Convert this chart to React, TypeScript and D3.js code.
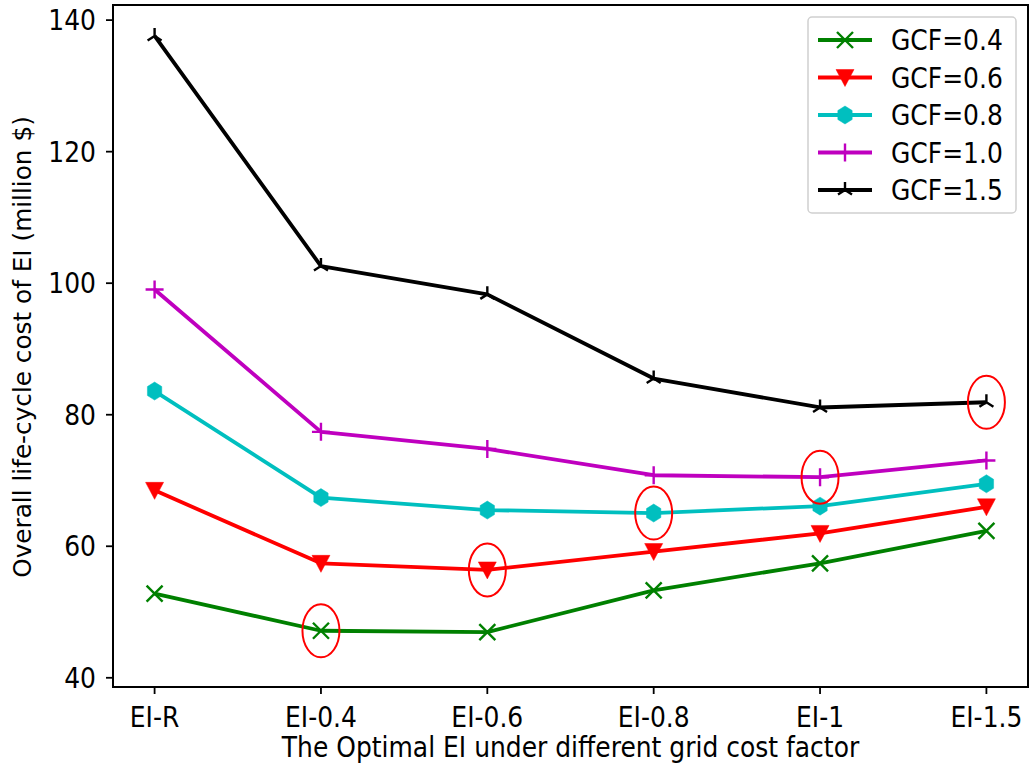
import * as d3 from "d3";

const categories = ["EI-R", "EI-0.4", "EI-0.6", "EI-0.8", "EI-1", "EI-1.5"];
const gcf04 = [52.8, 47.15, 46.95, 53.3, 57.4, 62.35];
const gcf06 = [68.5, 57.4, 56.4, 59.2, 61.95, 66.0];
const gcf08 = [83.6, 67.4, 65.5, 65.05, 66.1, 69.5];
const gcf10 = [99.05, 77.4, 74.8, 70.8, 70.5, 73.05];
const gcf15 = [137.6, 102.6, 98.3, 85.5, 81.1, 81.9];
const yTicks = [40, 60, 80, 100, 120, 140];
// circled optimum per column: [category index, value]
const optima: [number, number][] = [
  [1, 47.15],
  [2, 56.4],
  [3, 65.05],
  [4, 70.5],
  [5, 81.9],
];

const W = 1030;
const H = 771;
const FONT = "DejaVu Sans, sans-serif";
const FS = 25;
const SY = 1.1;

const series = [
  { name: "GCF=0.4", values: gcf04, color: "#008000", marker: "x" },
  { name: "GCF=0.6", values: gcf06, color: "#ff0000", marker: "v" },
  { name: "GCF=0.8", values: gcf08, color: "#00bfbf", marker: "h" },
  { name: "GCF=1.0", values: gcf10, color: "#bf00bf", marker: "+" },
  { name: "GCF=1.5", values: gcf15, color: "#000000", marker: "2" },
];

function markerPath(kind: string) {
  if (kind === "x") return "M-8,-8L8,8M-8,8L8,-8";
  if (kind === "+") return "M-9,0L9,0M0,-9L0,9";
  if (kind === "v") return "M-9,-8L9,-8L0,9Z";
  if (kind === "2") return "M0,0L0,-8M0,0L-7,4.5M0,0L7,4.5";
  const r = 9;
  const pts = d3.range(6).map((i) => {
    const a = (Math.PI / 3) * i - Math.PI / 2;
    return [r * 0.92 * Math.cos(a), r * Math.sin(a)];
  });
  return "M" + pts.map((p) => p.join(",")).join("L") + "Z";
}

function Marker({ kind, color, x, y }: { kind: string; color: string; x: number; y: number }) {
  const filled = kind === "v" || kind === "h";
  return (
    <path
      d={markerPath(kind)}
      transform={`translate(${x},${y})`}
      fill={filled ? color : "none"}
      stroke={color}
      strokeWidth={filled ? 0.5 : 2.4}
    />
  );
}

function Label({ x, y, anchor, children, rotate }: any) {
  const tr = rotate
    ? `translate(${x},${y}) rotate(-90) scale(0.99,1)`
    : `translate(${x},${y}) scale(1,${SY})`;
  return (
    <text transform={tr} textAnchor={anchor} fontFamily={FONT} fontSize={FS} fill="#000">
      {children}
    </text>
  );
}

export default function App() {
  const left = 113;
  const right = 1028;
  const top = 5;
  const bottom = 687;
  const x = d3.scaleLinear().domain([-0.25, 5.25]).range([left, right]);
  const y = d3.scaleLinear().domain([38.6, 142.3]).range([bottom, top]);
  const line = d3
    .line<number>()
    .x((_, i) => x(i))
    .y((d) => y(d));

  const legX = 808;
  const legY = 17;
  const rowY = (i: number) => 40 + i * 37.5;

  return (
    <svg
      width={W}
      height={H}
      style={{ position: "absolute", top: 0, left: 0, background: "#fff" }}
    >
      <rect width={W} height={H} fill="#fff" />
      {series.map((s) => (
        <g key={s.name}>
          <path d={line(s.values) ?? ""} fill="none" stroke={s.color} strokeWidth={3.8} strokeLinejoin="round" />
          {s.values.map((v, i) => (
            <Marker key={i} kind={s.marker} color={s.color} x={x(i)} y={y(v)} />
          ))}
        </g>
      ))}
      {optima.map(([i, v]) => (
        <ellipse key={i} cx={x(i)} cy={y(v)} rx={18.5} ry={26.5} fill="none" stroke="#ff0000" strokeWidth={2} />
      ))}

      <rect x={left} y={top} width={right - left} height={bottom - top} fill="none" stroke="#000" strokeWidth={2} />

      {categories.map((c, i) => (
        <g key={c}>
          <line x1={x(i)} x2={x(i)} y1={bottom} y2={bottom + 7} stroke="#000" strokeWidth={1.8} />
          <Label x={x(i)} y={727} anchor="middle">{c}</Label>
        </g>
      ))}
      {yTicks.map((t) => (
        <g key={t}>
          <line x1={left - 7} x2={left} y1={y(t)} y2={y(t)} stroke="#000" strokeWidth={1.8} />
          <Label x={96} y={y(t) + 10} anchor="end">{t}</Label>
        </g>
      ))}

      <Label x={(left + right) / 2} y={757} anchor="middle">
        The Optimal EI under different grid cost factor
      </Label>
      <Label x={31} y={347} anchor="middle" rotate>
        Overall life-cycle cost of EI (million $)
      </Label>

      <rect x={legX} y={legY} width={208} height={196} rx={4} fill="#fff" fillOpacity={0.8} stroke="#d0d0d0" strokeWidth={1.5} />
      {series.map((s, i) => (
        <g key={s.name}>
          <line x1={818} x2={872} y1={rowY(i)} y2={rowY(i)} stroke={s.color} strokeWidth={3.8} />
          <Marker kind={s.marker} color={s.color} x={845} y={rowY(i)} />
          <Label x={891} y={rowY(i) + 10} anchor="start">{s.name}</Label>
        </g>
      ))}
    </svg>
  );
}
